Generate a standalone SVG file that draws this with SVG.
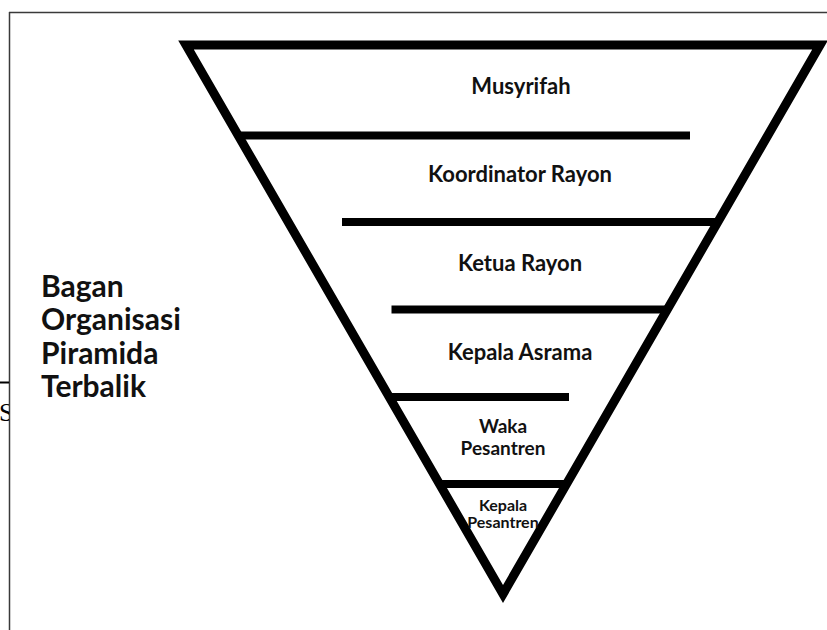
<svg xmlns="http://www.w3.org/2000/svg" width="827" height="630" viewBox="0 0 827 630">
  <defs>
    <style>
      .frame { stroke: #3a3a3a; stroke-width: 1.5; fill: none; }
      .edge { stroke: #000; stroke-width: 9; fill: none; stroke-linejoin: miter; stroke-miterlimit: 10; }
      .bar { stroke: #000; stroke-width: 8; stroke-linecap: butt; }
      .lbl { font-family: Lato, "Noto Sans", "Liberation Sans", sans-serif; font-weight: 700; fill: #111; text-anchor: middle; }
      .title { font-family: Lato, "Noto Sans", "Liberation Sans", sans-serif; font-weight: 700; fill: #111; font-size: 30px; }
    </style>
    <clipPath id="clipS"><rect x="0" y="390" width="9" height="40"/></clipPath>
  </defs>
  <rect width="827" height="630" fill="#fff"/>

  <g id="frame">
    <line class="frame" x1="9" y1="12.5" x2="827" y2="12.5"/>
    <line class="frame" x1="9.5" y1="12" x2="9.5" y2="630"/>
    <line x1="0" y1="382.5" x2="9" y2="382.5" stroke="#000" stroke-width="2"/>
    <text x="-1" y="421" clip-path="url(#clipS)" font-family="'Liberation Serif', serif" font-size="26" fill="#000">S</text>
  </g>

  <g id="pyramid">
    <polygon class="edge" points="186,45 820,45 503,594"/>
  </g>

  <g id="connectors">
    <line class="bar" x1="236" y1="135.5" x2="690" y2="135.5"/>
    <line class="bar" x1="342" y1="222" x2="720" y2="222"/>
    <line class="bar" x1="391.5" y1="309.5" x2="669" y2="309.5"/>
    <line class="bar" x1="387" y1="397" x2="569" y2="397"/>
    <line class="bar" x1="437" y1="484" x2="569" y2="484"/>
  </g>

  <g id="tier-musyrifah"><text class="lbl" x="521" y="94" font-size="22">Musyrifah</text></g>
  <g id="tier-koordinator-rayon"><text class="lbl" x="520" y="182" font-size="22">Koordinator Rayon</text></g>
  <g id="tier-ketua-rayon"><text class="lbl" x="520" y="271" font-size="22">Ketua Rayon</text></g>
  <g id="tier-kepala-asrama"><text class="lbl" x="520" y="360" font-size="22">Kepala Asrama</text></g>
  <g id="tier-waka-pesantren">
    <text class="lbl" x="503" y="433" font-size="19">Waka</text>
    <text class="lbl" x="503" y="455" font-size="19">Pesantren</text>
  </g>
  <g id="tier-kepala-pesantren">
    <text class="lbl" x="503" y="510.5" font-size="16">Kepala</text>
    <text class="lbl" x="503" y="528" font-size="16">Pesantren</text>
  </g>

  <g id="title">
    <text class="title" x="41" y="297">Bagan</text>
    <text class="title" x="41" y="330">Organisasi</text>
    <text class="title" x="41" y="363.5">Piramida</text>
    <text class="title" x="41" y="397">Terbalik</text>
  </g>
</svg>
